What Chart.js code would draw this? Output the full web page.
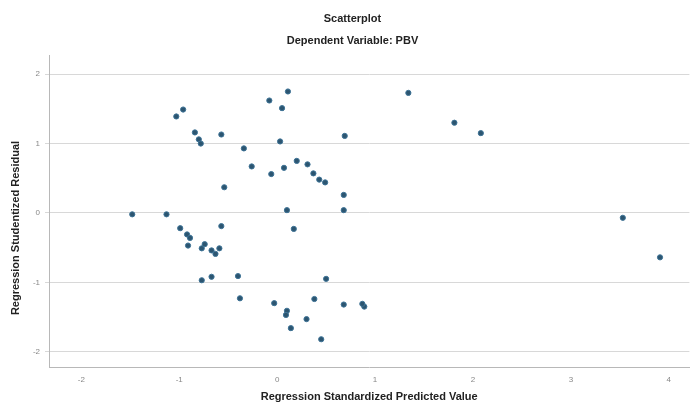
<!DOCTYPE html>
<html>
<head>
<meta charset="utf-8">
<script src="https://cdn.jsdelivr.net/npm/chart.js@4/dist/chart.umd.min.js"></script>
<style>
html,body{margin:0;padding:0;background:#fff;}
#wrap{width:693px;height:409px;position:relative;}
</style>
</head>
<body>
<div id="wrap"><canvas id="c" width="693" height="409"></canvas></div>
<script>
const chartTitle = "Scatterplot";
const chartSubtitle = "Dependent Variable: PBV";
const xAxisTitle = "Regression Standardized Predicted Value";
const yAxisTitle = "Regression Studentized Residual";

// Regression Standardized Predicted Value
const predicted = [
  -0.96, -1.03, -0.84, -0.80, -0.78, -0.57, -0.34, -0.26, -0.06, 0.07,
  0.20, 0.03, -0.08, 0.05, 0.11, -0.54, -1.48, -1.13, 0.10, 0.17,
  -0.99, -0.92, -0.89, -0.91, -0.77, -0.74, -0.67, -0.63, -0.59, -0.57,
  -0.77, -0.67, -0.40, -0.38, -0.03, 0.10, 0.09, 0.14, 1.34, 0.69,
  0.31, 0.37, 0.43, 0.49, 0.68, 0.68, 0.50, 0.38, 0.68, 0.89,
  0.87, 0.30, 0.45, 1.81, 2.08, 3.53, 3.91
];
// Regression Studentized Residual
const residual = [
  1.49, 1.39, 1.16, 1.06, 1.00, 1.13, 0.93, 0.67, 0.56, 0.65,
  0.75, 1.03, 1.62, 1.51, 1.75, 0.37, -0.02, -0.02, 0.04, -0.23,
  -0.22, -0.31, -0.36, -0.47, -0.51, -0.45, -0.54, -0.59, -0.51, -0.19,
  -0.97, -0.92, -0.91, -1.23, -1.30, -1.41, -1.47, -1.66, 1.73, 1.11,
  0.70, 0.57, 0.48, 0.44, 0.26, 0.04, -0.95, -1.24, -1.32, -1.35,
  -1.31, -1.53, -1.82, 1.30, 1.15, -0.07, -0.64
];
const xTicks = [-2, -1, 0, 1, 2, 3, 4];
const yTicks = [-2, -1, 0, 1, 2];

const points = predicted.map((x, i) => ({ x: x, y: residual[i] }));

const yTitlePlugin = {
  id: 'yTitle',
  afterDraw(chart) {
    const ctx = chart.ctx;
    ctx.save();
    ctx.translate(16, 228);
    ctx.rotate(-Math.PI / 2);
    ctx.font = "bold 11px 'Liberation Sans', Arial, sans-serif";
    ctx.fillStyle = '#222';
    ctx.textAlign = 'center';
    ctx.textBaseline = 'middle';
    ctx.fillText(yAxisTitle, 0, 0);
    ctx.restore();
  }
};

new Chart(document.getElementById('c'), {
  type: 'scatter',
  data: {
    datasets: [{
      data: points,
      backgroundColor: '#2c5570',
      borderColor: '#3e7396',
      borderWidth: 1,
      pointRadius: 2.6,
      pointHoverRadius: 2.6
    }]
  },
  options: {
    responsive: false,
    animation: false,
    events: [],
    layout: { padding: { left: 15, right: 3, top: 0, bottom: 0 } },
    plugins: {
      legend: { display: false },
      tooltip: { enabled: false },
      title: {
        display: true,
        text: chartTitle,
        color: '#222',
        font: { family: "'Liberation Sans', Arial, sans-serif", size: 11, weight: 'bold' },
        padding: { top: 12, bottom: 6 }
      },
      subtitle: {
        display: true,
        text: chartSubtitle,
        color: '#222',
        font: { family: "'Liberation Sans', Arial, sans-serif", size: 11, weight: 'bold' },
        padding: { top: 3, bottom: 8 }
      }
    },
    scales: {
      x: {
        type: 'linear',
        min: -2.33,
        max: 4.21,
        afterFit(scale) { scale.height = 42; },
        afterBuildTicks(scale) { scale.ticks = xTicks.map(v => ({ value: v })); },
        grid: { display: false, drawTicks: false },
        border: { display: true, color: '#b8b8b8', width: 1 },
        ticks: {
          color: '#888',
          font: { family: "'Liberation Sans', Arial, sans-serif", size: 8 },
          padding: 8,
          callback: v => String(v)
        },
        title: {
          display: true,
          text: xAxisTitle,
          color: '#222',
          font: { family: "'Liberation Sans', Arial, sans-serif", size: 11, weight: 'bold' },
          padding: { top: 2, bottom: 5 }
        }
      },
      y: {
        type: 'linear',
        min: -2.22,
        max: 2.27,
        afterFit(scale) { scale.width = 34; },
        afterBuildTicks(scale) { scale.ticks = yTicks.map(v => ({ value: v })); },
        grid: { color: '#d8d8d8', lineWidth: 1, drawTicks: true, tickLength: 4, tickColor: '#d8d8d8' },
        border: { display: true, color: '#b8b8b8', width: 1 },
        ticks: {
          color: '#888',
          font: { family: "'Liberation Sans', Arial, sans-serif", size: 8 },
          padding: 5,
          callback: v => String(v)
        },
        title: { display: false }
      }
    }
  },
  plugins: [yTitlePlugin]
});
</script>
</body>
</html>
